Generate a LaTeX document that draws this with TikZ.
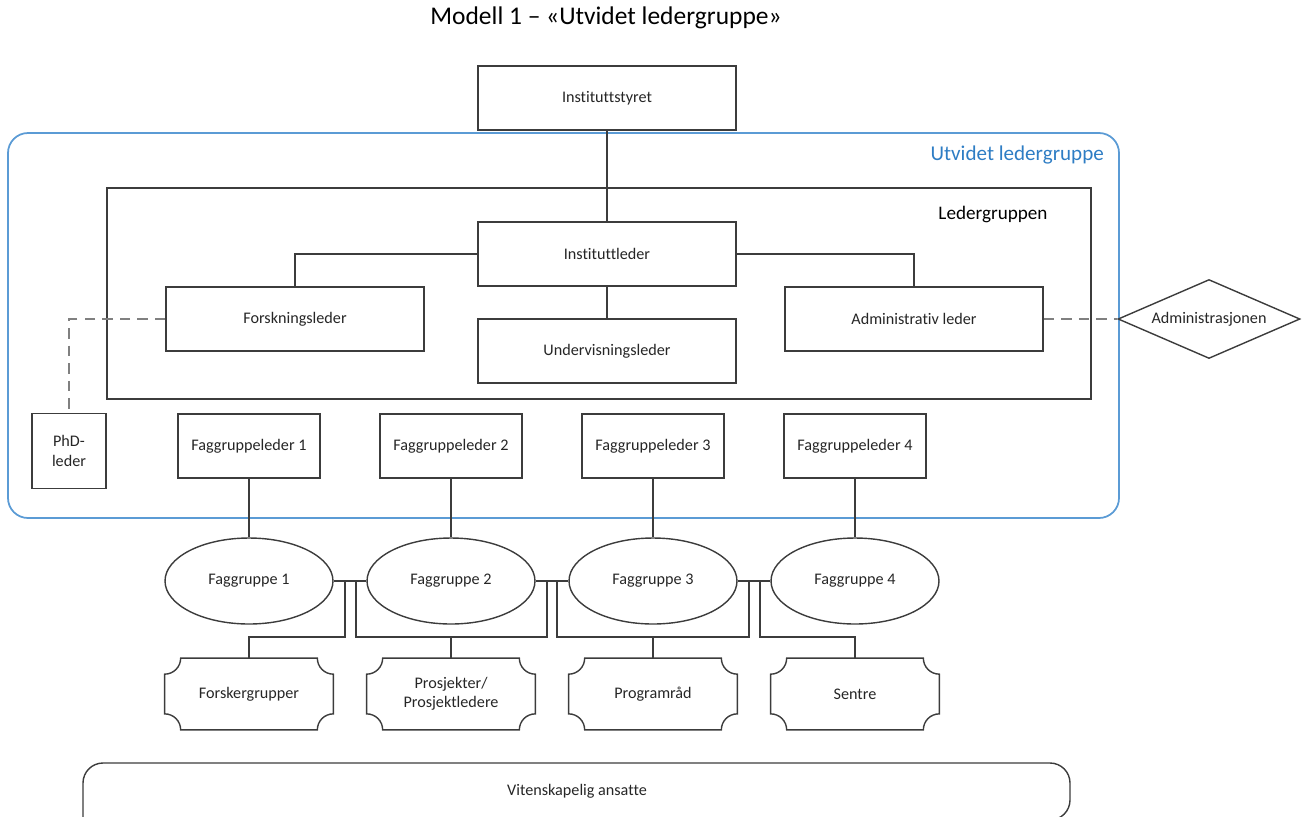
\documentclass[tikz,border=0pt]{standalone}
\usepackage{fontspec}
\setmainfont{Carlito}[Ligatures=NoCommon]
\usetikzlibrary{shapes.geometric}
\definecolor{utvblue}{RGB}{91,155,213}
\definecolor{utvtext}{RGB}{46,125,196}
\definecolor{linegray}{RGB}{60,60,60}
\definecolor{dashgray}{RGB}{128,128,128}
\tikzset{
  conn/.style={draw=linegray, line width=0.8pt},
  dashline/.style={draw=dashgray, line width=1pt, dash pattern=on 6pt off 4pt},
  boxtext/.style={font=\fontsize{9.2}{11}\selectfont, text=black!85},
  box/.style={boxtext, draw=linegray, line width=0.8pt, fill=white, inner sep=1pt, align=center,
    minimum width=5.16cm, minimum height=1.28cm},
  leaderbox/.style={box, minimum width=2.84cm},
  phdbox/.style={box, minimum width=1.48cm, minimum height=1.5cm},
  groupoval/.style={boxtext, ellipse, draw=linegray, line width=0.8pt, inner sep=0pt,
    minimum width=3.36cm, minimum height=1.72cm},
  unitdiamond/.style={boxtext, diamond, aspect=2.3, draw=linegray, line width=0.8pt, inner sep=0pt,
    minimum width=3.64cm, minimum height=1.58cm},
  plaque/.style={boxtext, inner sep=0pt, align=center, minimum width=3.36cm, minimum height=1.42cm},
}
% outline with concave corners round a plaque node
\newcommand{\plaqueframe}[1]{%
  \draw[conn] ([xshift=0.32cm]#1.north west) -- ([xshift=-0.32cm]#1.north east)
    arc[start angle=180, end angle=270, radius=0.32cm]
    -- ([yshift=0.32cm]#1.south east)
    arc[start angle=90, end angle=180, radius=0.32cm]
    -- ([xshift=0.32cm]#1.south west)
    arc[start angle=0, end angle=90, radius=0.32cm]
    -- ([yshift=-0.32cm]#1.north west)
    arc[start angle=270, end angle=360, radius=0.32cm] -- cycle;}
\begin{document}
\begin{tikzpicture}[x=0.02cm, y=0.02cm]
  \useasboundingbox (0,0) rectangle (1302,-816);
  \clip (0,0) rectangle (1302,-816);

  % frames
  \draw[utvblue, line width=1pt, rounded corners=0.4cm] (8,-133) rectangle (1119,-518);
  \draw[conn] (107,-188) rectangle (1091,-399);
  \draw[conn, rounded corners=0.4cm] (83,-840) -- (83,-763) -- (1070,-763) -- (1070,-820) -- (900,-820);

  \node (title) at (606,-18) {\fontsize{14.5}{17}\selectfont Modell 1 – «Utvidet ledergruppe»};
  \node[anchor=east, text=utvtext, font=\fontsize{12}{14}\selectfont] (utvlabel) at (1110,-155) {Utvidet ledergruppe};
  \node[font=\fontsize{10.9}{13}\selectfont] (ledlabel) at (993,-214) {Ledergruppen};
  \node[boxtext] (vitansatte) at (577,-791) {Vitenskapelig ansatte};

  \node[box] (styret) at (607,-98) {Instituttstyret};
  \node[box] (instleder) at (607,-254) {Instituttleder};
  \node[box] (forskleder) at (295,-319) {Forskningsleder};
  \node[box] (undleder) at (607,-351) {Undervisningsleder};
  \node[box] (admleder) at (914,-319) {Administrativ leder};
  \node[phdbox] (phd) at (69,-451) {PhD-\\leder};
  \node[unitdiamond] (adm) at (1209,-319) {Administrasjonen};

  \foreach \i/\x in {1/249, 2/451, 3/653, 4/855} {
    \node[leaderbox] (fl\i) at (\x,-446) {Faggruppeleder \i};
    \node[groupoval] (fg\i) at (\x,-581) {Faggruppe \i};
  }
  \node[plaque] (pl1) at (249,-694) {Forskergrupper};
  \node[plaque] (pl2) at (451,-694) {Prosjekter/\\Prosjektledere};
  \node[plaque] (pl3) at (653,-694) {Programråd};
  \node[plaque] (pl4) at (855,-694) {Sentre};
  \foreach \i in {1,...,4} \plaqueframe{pl\i};

  \coordinate (g1a) at (345,-581); \coordinate (g1b) at (356,-581);
  \coordinate (g2a) at (547,-581); \coordinate (g2b) at (557,-581);
  \coordinate (g3a) at (749,-581); \coordinate (g3b) at (760,-581);

  \draw[conn] (styret) -- (instleder);
  \draw[conn] (instleder.west) -| (forskleder.north);
  \draw[conn] (instleder.east) -| (admleder.north);
  \draw[conn] (instleder) -- (undleder);
  \draw[dashline] (forskleder.west) -| (phd.north);
  \draw[dashline] (admleder.east) -- (adm.west);

  \foreach \i in {1,...,4} \draw[conn] (fl\i) -- (fg\i);
  \draw[conn] (fg1.east) -- (fg2.west);
  \draw[conn] (fg2.east) -- (fg3.west);
  \draw[conn] (fg3.east) -- (fg4.west);

  \draw[conn] (g1a) -- ++(0,-56) -| (pl1.north);
  \draw[conn] (g1b) -- ++(0,-56) -| (g2a);
  \draw[conn] (pl2.north) -- ++(0,22);
  \draw[conn] (g2b) -- ++(0,-56) -| (g3a);
  \draw[conn] (pl3.north) -- ++(0,22);
  \draw[conn] (g3b) -- ++(0,-56) -| (pl4.north);
\end{tikzpicture}
\end{document}
